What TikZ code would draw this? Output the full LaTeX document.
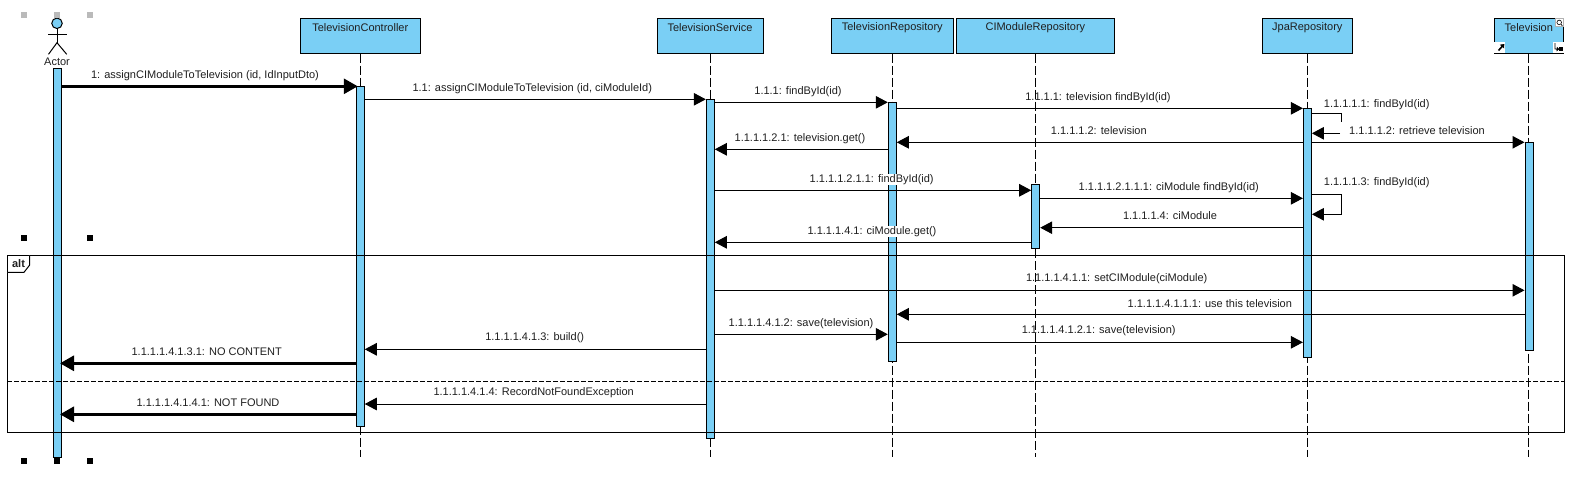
\documentclass[tikz,border=0pt]{standalone}
\usepackage{fontspec}
\setmainfont{Liberation Sans}
\usetikzlibrary{arrows.meta}
\definecolor{vpblue}{HTML}{7ACFF5}
\tikzset{
  x=1pt,y=-1pt,
  obj/.style={draw=black,fill=vpblue,line width=1pt,rectangle,anchor=center,inner sep=0pt},
  bar/.style={draw=black,fill=vpblue,line width=1pt,rectangle,minimum width=8pt,inner sep=0pt,anchor=north},
  life/.style={draw=black,line width=.8pt,dash pattern=on 9pt off 3pt},
  msg/.style={draw=black,line width=1pt,-{Triangle[length=12pt,width=12.5pt]}},
  plain/.style={draw=black,line width=1pt},
  found/.style={draw=black,line width=3pt,-{Triangle[length=14pt,width=15pt]},shorten >=-2pt},
  lbl/.style={fill=white,inner xsep=1pt,inner ysep=.5pt,yshift=-1pt,text=black!88,font=\fontsize{11}{12}\selectfont},
  ttl/.style={text=black!88,font=\fontsize{11}{12}\selectfont,inner sep=0pt,yshift=-1pt},
  hnd/.style={rectangle,fill=black,minimum size=6pt,inner sep=0pt},
  ghnd/.style={rectangle,fill=black!27,minimum size=6pt,inner sep=0pt},
  icon/.style={rectangle,fill=white,inner sep=0pt}
}
\begin{document}
\begin{tikzpicture}
\useasboundingbox (0,0) rectangle (1590,501);
% lifeline heads
\node[obj,minimum width=120.5pt,minimum height=35pt] (ctrl) at (360.25,35.5) {};
\node[obj,minimum width=106pt,minimum height=35pt] (serv) at (710,35.5) {};
\node[obj,minimum width=122pt,minimum height=35pt] (repo) at (892.3,35.5) {};
\node[obj,minimum width=158pt,minimum height=35pt] (cimr) at (1035.4,35.5) {};
\node[obj,minimum width=90pt,minimum height=35pt] (jpa) at (1307.3,35.5) {};
\node[obj,minimum width=69pt,minimum height=35pt] (tv) at (1528.8,35.5) {};
\node[ttl] (tctrl) at (360.25,26.5) {TelevisionController};
\node[ttl] (tserv) at (710,26.5) {TelevisionService};
\node[ttl] (trepo) at (892.3,26.5) {TelevisionRepository};
\node[ttl] (tcimr) at (1035.4,26.5) {CIModuleRepository};
\node[ttl] (tjpa) at (1307.3,26.5) {JpaRepository};
\node[ttl] (ttv) at (1528.8,26.5) {Television};
% lifelines
\coordinate (ectrl) at (360.25,457.3);
\coordinate (eserv) at (710,457.3);
\coordinate (erepo) at (892.3,457.3);
\coordinate (ecimr) at (1035.4,457.3);
\coordinate (ejpa) at (1307.3,457.3);
\coordinate (etv) at (1528.8,457.3);
\draw[life] (ctrl.south) -- (ectrl);
\draw[life] (serv.south) -- (eserv);
\draw[life] (repo.south) -- (erepo);
\draw[life] (jpa.south) -- (ejpa);
\draw[life] (tv.south) -- (etv);
% actor
\node[circle,draw=black,fill=vpblue,line width=1pt,minimum size=10.5pt,inner sep=0pt] (head) at (57,23.3) {};
\coordinate (hip) at (57,42.7);
\coordinate (arml) at (48.3,34);
\coordinate (armr) at (66.7,34);
\coordinate (legl) at (48.5,54.3);
\coordinate (legr) at (66.7,54.3);
\draw[plain] (head.south) -- (hip);
\draw[plain] (arml) -- (armr);
\draw[plain] (legl) -- (hip) -- (legr);
\node[ttl] (actorlbl) at (57,60.5) {Actor};
% activation bars
\node[bar,minimum height=389pt] (ba) at (57.5,68.3) {};
\node[bar,minimum height=340pt] (bc) at (360.25,86.3) {};
\node[bar,minimum height=339pt] (bs) at (710.3,99.3) {};
\node[bar,minimum height=259pt] (br) at (892.3,102.3) {};
\node[bar,minimum height=64pt] (bm) at (1035.7,184.3) {};
\node[bar,minimum height=249pt] (bj) at (1307.4,108.3) {};
\node[bar,minimum height=208pt] (bt) at (1529,142.3) {};
% combined fragment
\node[draw=black,line width=1pt,rectangle,inner sep=0pt,minimum width=1556.8pt,minimum height=177pt] (alt) at (785.9,343.8) {};
\coordinate (tabr) at (29.7,255.3);
\coordinate (tabc) at (29.7,265);
\coordinate (tabd) at (24,272.3);
\coordinate (tabb) at (7.5,272.3);
\draw[plain,fill=white] (tabr) -- (tabc) -- (tabd) -- (tabb);
\node[text=black!88,inner sep=0pt,font=\fontsize{11}{12}\selectfont\bfseries] (altlbl) at (18.5,263.5) {alt};
\draw[line width=.9pt,dash pattern=on 5pt off 2pt] (alt.west |- 0,381.3) -- (alt.east |- 0,381.3);
% messages
\draw[found] (ba.east |- 0,86.3) -- (bc.west |- 0,86.3);
\draw[msg] (bc.east |- 0,99.3) -- (bs.west |- 0,99.3);
\draw[msg] (bs.east |- 0,102.3) -- (br.west |- 0,102.3);
\draw[msg] (br.east |- 0,108.3) -- (bj.west |- 0,108.3);
\coordinate (selfa) at (1341.3,113.3);
\coordinate (selfb) at (1341.3,121.7);
\coordinate (selfc) at (1340,133.3);
\draw[plain] (bj.east |- selfa) -- (selfa) -- (selfb);
\draw[msg] (selfc) -- (bj.east |- selfc);
\draw[msg] (bj.west |- 0,142.3) -- (br.east |- 0,142.3);
\draw[msg] (bj.east |- 0,142.3) -- (bt.west |- 0,142.3);
\draw[msg] (br.west |- 0,149.3) -- (bs.east |- 0,149.3);
\draw[msg] (bs.east |- 0,190.3) -- (bm.west |- 0,190.3);
\draw[msg] (bm.east |- 0,198.3) -- (bj.west |- 0,198.3);
\coordinate (selfd) at (1341.3,194.3);
\coordinate (selfe) at (1341.3,214.3);
\draw[msg] (bj.east |- selfd) -- (selfd) -- (selfe) -- (bj.east |- selfe);
\draw[msg] (bj.west |- 0,227.7) -- (bm.east |- 0,227.7);
\draw[msg] (bm.west |- 0,242.3) -- (bs.east |- 0,242.3);
\draw[msg] (bs.east |- 0,290.3) -- (bt.west |- 0,290.3);
\draw[msg] (bt.west |- 0,314.3) -- (br.east |- 0,314.3);
\draw[msg] (bs.east |- 0,334.3) -- (br.west |- 0,334.3);
\draw[msg] (br.east |- 0,342.3) -- (bj.west |- 0,342.3);
\draw[msg] (bs.west |- 0,349.3) -- (bc.east |- 0,349.3);
\draw[found] (bc.west |- 0,363.3) -- (ba.east |- 0,363.3);
\draw[msg] (bs.west |- 0,404) -- (bc.east |- 0,404);
\draw[found] (bc.west |- 0,414.3) -- (ba.east |- 0,414.3);
% labels
\node[lbl] (m1) at (205,74.7) {1: assignCIModuleToTelevision (id, IdInputDto)};
\node[lbl] (m2) at (532.3,88) {1.1: assignCIModuleToTelevision (id, ciModuleId)};
\node[lbl] (m3) at (798,90.7) {1.1.1: findById(id)};
\node[lbl] (m4) at (1098,96.3) {1.1.1.1: television findById(id)};
\node[lbl] (m5) at (1376.7,103.3) {1.1.1.1.1: findById(id)};
\node[lbl] (m6) at (1098.8,130) {1.1.1.1.2: television};
\node[lbl] (m7) at (1417,130) {1.1.1.1.2: retrieve television};
\node[lbl] (m8) at (800,137.3) {1.1.1.1.2.1: television.get()};
\node[lbl] (m9) at (871.7,178.3) {1.1.1.1.2.1.1: findById(id)};
\node[lbl] (m10) at (1168.8,186.3) {1.1.1.1.2.1.1.1: ciModule findById(id)};
\node[lbl] (m11) at (1376.7,181.3) {1.1.1.1.3: findById(id)};
\node[lbl] (m12) at (1170,215) {1.1.1.1.4: ciModule};
\node[lbl] (m13) at (872,230.3) {1.1.1.1.4.1: ciModule.get()};
\node[lbl] (m14) at (1116.7,278) {1.1.1.1.4.1.1: setCIModule(ciModule)};
\node[lbl] (m15) at (1209.8,302.3) {1.1.1.1.4.1.1.1: use this television};
\node[lbl] (m16) at (801,322.3) {1.1.1.1.4.1.2: save(television)};
\node[lbl] (m17) at (1098.7,330) {1.1.1.1.4.1.2.1: save(television)};
\node[lbl] (m18) at (534.7,337) {1.1.1.1.4.1.3: build()};
\node[lbl] (m19) at (206.7,351) {1.1.1.1.4.1.3.1: NO CONTENT};
\node[lbl] (m20) at (533.7,391.7) {1.1.1.1.4.1.4: RecordNotFoundException};
\node[lbl] (m21) at (208,402) {1.1.1.1.4.1.4.1: NOT FOUND};
% CIModuleRepository lifeline runs over the labels
\draw[life] (cimr.south) -- (bm.north -| cimr.south);
\draw[life] (bm.south -| cimr.south) -- (ecimr);
% selection handles
\node[ghnd] (g1) at (24,15) {};
\node[ghnd] (g2) at (57,15) {};
\node[ghnd] (g3) at (90,15) {};
\node[hnd] (h1) at (24,237.7) {};
\node[hnd] (h2) at (90,237.7) {};
\node[hnd] (h3) at (24,460.7) {};
\node[hnd] (h4) at (57,460.7) {};
\node[hnd] (h5) at (90,460.7) {};
% television icons
\node[icon,minimum width=11pt,minimum height=11pt] (i1) at (1499.8,47) {};
\node[icon,minimum width=10.6pt,minimum height=11pt] (i2) at (1558.6,47) {};
\node[icon,minimum width=7.6pt,minimum height=8pt,draw=black!30,line width=.5pt] (i3) at (1559.5,22.7) {};
\coordinate (i1a) at (1498.5,50.5);
\coordinate (i1b) at (1504.3,44);
\coordinate (i2a) at (1555,43);
\coordinate (i2b) at (1555,49);
\draw[line width=1.6pt,-{Triangle[length=3.5pt,width=5.5pt]}] (i1a) -- (i1b);
\node[rectangle,fill=black,minimum size=3.6pt,inner sep=0pt] (i4) at (1561.2,49.2) {};
\draw[line width=.9pt,-{Triangle[length=2.5pt,width=4.5pt]}] (i2a) -- (i2b) -- (i4.west);
\node[circle,draw=black,line width=.6pt,minimum size=4.6pt,inner sep=0pt] (i5) at (1559.2,22.4) {};
\coordinate (i6) at (1562.3,25.8);
\draw[line width=.7pt] (i5.south east) -- (i6);
\end{tikzpicture}
\end{document}
